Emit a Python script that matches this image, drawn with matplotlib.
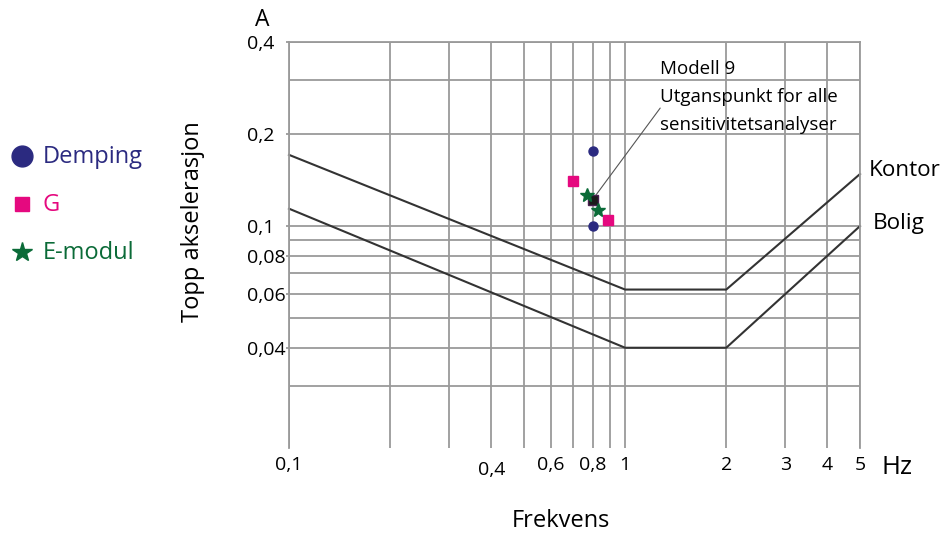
import matplotlib
matplotlib.use("Agg")
import matplotlib.pyplot as plt
import matplotlib.transforms as mtransforms
from matplotlib.lines import Line2D
from matplotlib.ticker import FixedLocator, NullFormatter

plt.rcParams['font.family'] = ['Open Sans', 'DejaVu Sans']

# Comfort limit curves (frequency in Hz, peak acceleration)
kontor_freq = [0.1, 1.0, 2.0, 5.0]
kontor_acc = [0.171, 0.062, 0.062, 0.148]
bolig_freq = [0.1, 1.0, 2.0, 5.0]
bolig_acc = [0.114, 0.040, 0.040, 0.100]

# Sensitivity analysis results
demping_freq = [0.80, 0.80]
demping_acc = [0.176, 0.100]
g_freq = [0.70, 0.89]
g_acc = [0.140, 0.105]
emodul_freq = [0.77, 0.83]
emodul_acc = [0.126, 0.113]
modell9_freq = [0.80]
modell9_acc = [0.122]

x_major = [0.1, 0.4, 0.6, 0.8, 1, 2, 3, 4, 5]
x_labels = ["0,1", "0,4", "0,6", "0,8", "1", "2", "3", "4", "5"]
x_minor = [0.2, 0.3, 0.5, 0.7, 0.9]
y_major = [0.04, 0.06, 0.08, 0.1, 0.2, 0.4]
y_labels = ["0,04", "0,06", "0,08", "0,1", "0,2", "0,4"]
y_minor = [0.03, 0.05, 0.07, 0.09, 0.3]

c_demping = "#2b2a80"
c_g = "#e5097f"
c_emodul = "#0b6b38"
grid_c = "#9a9a9a"
line_c = "#333333"

fig = plt.figure(figsize=(9.44, 5.33), dpi=100)
ax = fig.add_axes([289 / 944, 1 - 448 / 533, (860 - 289) / 944, (448 - 42) / 533])
ax.set_xscale("log")
ax.set_yscale("log")
ax.set_xlim(0.1, 5)
ax.set_ylim(0.0188, 0.4)

ax.xaxis.set_major_locator(FixedLocator(x_major))
ax.xaxis.set_minor_locator(FixedLocator(x_minor))
ax.set_xticklabels(x_labels)
ax.xaxis.set_minor_formatter(NullFormatter())
ax.yaxis.set_major_locator(FixedLocator(y_major))
ax.yaxis.set_minor_locator(FixedLocator(y_minor))
ax.set_yticklabels(y_labels, ha="left")
ax.yaxis.set_minor_formatter(NullFormatter())

ax.grid(True, which="both", color=grid_c, linewidth=1.3)
ax.set_axisbelow(True)
ax.tick_params(axis="both", which="both", length=0, labelsize=14, colors="black")
ax.tick_params(axis="y", which="major", length=2.5, width=1.3, color=grid_c, pad=28)
ax.tick_params(axis="x", pad=6)
for side in ("top", "left", "right"):
    ax.spines[side].set_color(grid_c)
    ax.spines[side].set_linewidth(1.3)
ax.spines["bottom"].set_visible(False)

# The 0,4 label sits a little lower than its neighbours
for lbl in ax.get_xticklabels():
    if lbl.get_text() == "0,4":
        lbl.set_transform(lbl.get_transform() +
                          mtransforms.ScaledTranslation(0, -5 / 100, fig.dpi_scale_trans))

ax.plot(kontor_freq, kontor_acc, color=line_c, linewidth=1.5, clip_on=False)
ax.plot(bolig_freq, bolig_acc, color=line_c, linewidth=1.5, clip_on=False)

ax.plot(demping_freq, demping_acc, "o", color=c_demping, markersize=6.5, linestyle="none")
ax.plot(g_freq, g_acc, "s", color=c_g, markersize=7, linestyle="none")
ax.plot(modell9_freq, modell9_acc, "s", color="#1a1a1a", markeredgecolor="#4a2050",
        markersize=7, linestyle="none", zorder=4)
ax.plot(emodul_freq, emodul_acc, "*", color=c_emodul, markersize=10, linestyle="none", zorder=5)

# Callout for the reference model
ax.annotate("", xy=(modell9_freq[0], modell9_acc[0]), xytext=(1.272, 0.2432),
            arrowprops=dict(arrowstyle="-", color="#555555", linewidth=0.8,
                            shrinkA=0, shrinkB=3))
ax.text(1.272, 0.2640, "Modell 9\nUtganspunkt for alle\nsensitivitetsanalyser",
        ha="left", va="center", fontsize=13.5, linespacing=1.7)

ax.set_ylabel("Topp akselerasjon", fontsize=17)
ax.yaxis.set_label_coords((205 - 289) / 571, (448 - 222) / 406)

fig.text(262 / 944, 1 - 20 / 533, "A", fontsize=16.5, ha="center", va="center")
fig.text(897 / 944, 1 - 467 / 533, "Hz", fontsize=18.5, ha="center", va="center")
fig.text(561 / 944, 1 - 521 / 533, "Frekvens", fontsize=17, ha="center", va="center")
fig.text(869 / 944, 1 - 170 / 533, "Kontor", fontsize=16.2, ha="left", va="center")
fig.text(873 / 944, 1 - 223 / 533, "Bolig", fontsize=16.2, ha="left", va="center")

# Legend drawn beside the axes
legend_items = [
    ("o", 15, c_demping, "Demping", 156),
    ("s", 10, c_g, "G", 204),
    ("*", 15, c_emodul, "E-modul", 252),
]
for marker, size, color, label, ypix in legend_items:
    fig.lines.append(Line2D(
        [22 / 944], [1 - ypix / 533], marker=marker, markersize=size, color=color,
        linestyle="none", transform=fig.transFigure))
    fig.text(43 / 944, 1 - (ypix + 1) / 533, label, fontsize=17, color=color,
             ha="left", va="center")

fig.savefig("out.png", dpi=100)
